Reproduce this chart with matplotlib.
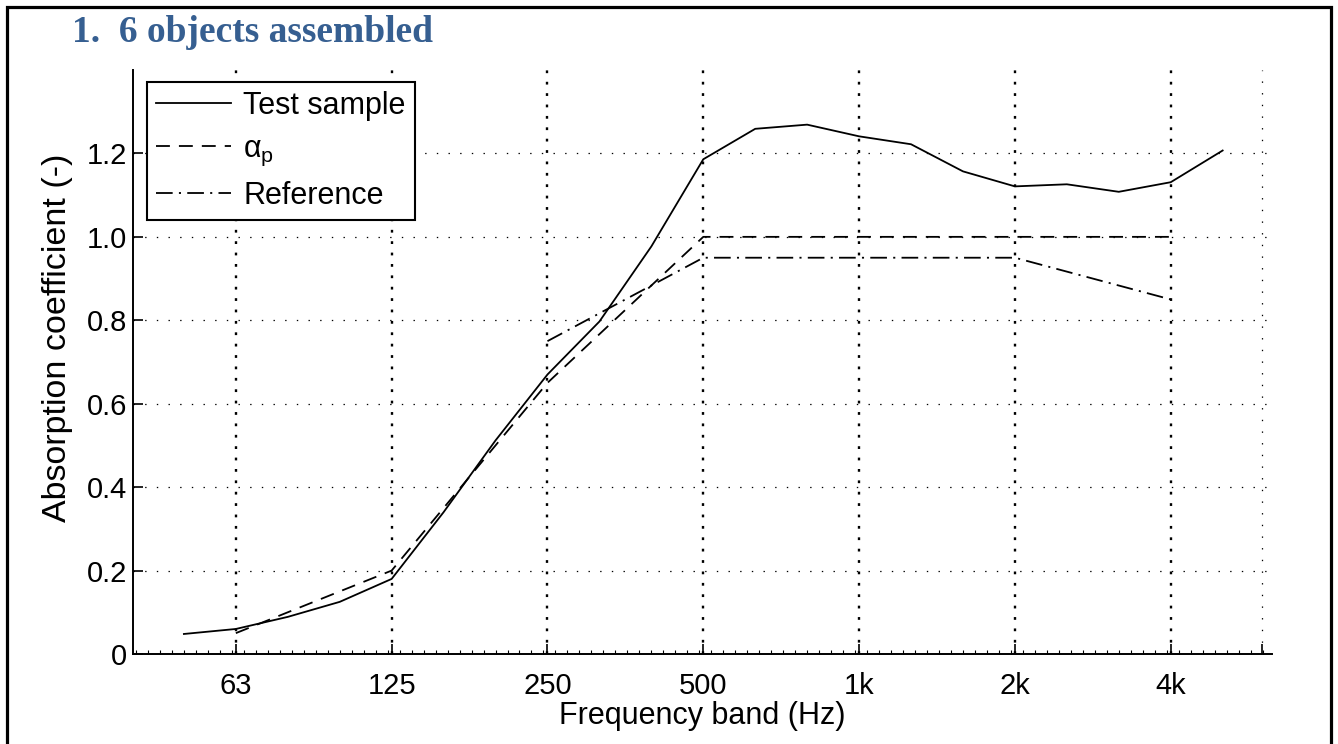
import matplotlib
matplotlib.use("Agg")
import matplotlib.pyplot as plt
from matplotlib.lines import Line2D
from matplotlib.ticker import FixedLocator, FixedFormatter, MultipleLocator

# ---------------- data ----------------
bands = ['50', '63', '80', '100', '125', '160', '200', '250', '315', '400', '500',
         '630', '800', '1k', '1.25k', '1.6k', '2k', '2.5k', '3.15k', '4k', '5k']
test_sample = [0.048, 0.060, 0.089, 0.125, 0.180, 0.340, 0.512, 0.670, 0.797, 0.977, 1.186,
               1.259, 1.269, 1.241, 1.222, 1.157, 1.121, 1.126, 1.108, 1.131, 1.207]
alpha_p_bands = ['63', '125', '250', '500', '1k', '2k', '4k']
alpha_p = [0.05, 0.20, 0.65, 1.00, 1.00, 1.00, 1.00]
ref_bands = ['250', '500', '1k', '2k', '4k']
reference = [0.75, 0.95, 0.95, 0.95, 0.85]
xtick_bands = ['63', '125', '250', '500', '1k', '2k', '4k']
xtick_labels = ['63', '125', '250', '500', '1k', '2k', '4k']
yticks = [0, 0.2, 0.4, 0.6, 0.8, 1.0, 1.2]
ytick_labels = ['0', '0.2', '0.4', '0.6', '0.8', '1.0', '1.2']

idx = {b: i for i, b in enumerate(bands)}

plt.rcParams['font.family'] = ['Liberation Sans', 'DejaVu Sans']
plt.rcParams['mathtext.fontset'] = 'custom'
plt.rcParams['mathtext.rm'] = 'Liberation Sans'
plt.rcParams['mathtext.it'] = 'Liberation Sans:italic'
plt.rcParams['mathtext.sf'] = 'Liberation Sans'
plt.rcParams['lines.scale_dashes'] = False

fig = plt.figure(figsize=(13.38, 7.44), dpi=100)
W, H = 1338, 744
ax = fig.add_axes([133 / W, 1 - 654 / H, (1272 - 133) / W, (654 - 70) / H])

dash = (0, (10, 6.5))
dashdot = (0, (12, 4.5, 1.5, 4.5))

ax.plot([idx[b] for b in bands], test_sample, color='black', lw=1.3, ls='-',
        label='Test sample', zorder=3)
ax.plot([idx[b] for b in alpha_p_bands], alpha_p, color='black', lw=1.3, ls=dash,
        label=r'$\mathrm{\alpha_p}$', zorder=3)
ax.plot([idx[b] for b in ref_bands], reference, color='black', lw=1.3, ls=dashdot,
        label='Reference', zorder=3)

xt = [idx[b] for b in xtick_bands] + [20.75]
ax.set_xlim(-0.98, 20.95)
ax.set_ylim(0, 1.4)
ax.xaxis.set_major_locator(FixedLocator(xt))
ax.xaxis.set_major_formatter(FixedFormatter(xtick_labels + ['']))
ax.xaxis.set_minor_locator(MultipleLocator(3 / 13))
ax.yaxis.set_major_locator(FixedLocator(yticks))
ax.yaxis.set_major_formatter(FixedFormatter(ytick_labels))

# grid
for i, x in enumerate(xt):
    if i < len(xtick_bands):
        ax.axvline(x, color='black', lw=1.7, ls=(0, (2.0, 6.2)), zorder=1)
    else:
        ax.axvline(x, color='black', lw=0.9, ls=(0, (1.0, 7.4)), zorder=1)
for y in yticks[1:]:
    ax.axhline(y, color='black', lw=0.9, ls=(0, (1.0, 7.4)), zorder=1)

for s in ['top', 'right']:
    ax.spines[s].set_visible(False)
for s in ['left', 'bottom']:
    ax.spines[s].set_linewidth(1.4)

ax.tick_params(axis='both', which='major', direction='in', length=7, width=1.2,
               labelsize=21)
ax.tick_params(axis='x', which='major', pad=13)
ax.tick_params(axis='y', which='major', pad=4)
ax.tick_params(axis='x', which='minor', direction='in', length=3, width=0.8)
ax.tick_params(axis='y', which='minor', left=False)

ax.set_xlabel('Frequency band (Hz)', fontsize=22, labelpad=1)
ax.set_ylabel('Absorption coefficient (-)', fontsize=24.5)
ax.yaxis.set_label_coords(-0.053, 0.541)

leg = ax.legend(loc='upper left', bbox_to_anchor=(0.0123, 0.9795), borderaxespad=0,
                fontsize=22, frameon=True, fancybox=False, shadow=False,
                handlelength=2.45, handletextpad=0.4, labelspacing=0.42,
                borderpad=0.3, framealpha=1)
leg.get_frame().set_edgecolor('black')
leg.get_frame().set_linewidth(1.5)

# title (document heading)
fig.text(72 / W, 1 - 42 / H, '1.  6 objects assembled', fontsize=27, fontweight='bold',
         family='Liberation Serif', color='#365F91', va='baseline', ha='left')

# page border
fig.add_artist(Line2D([7 / W, 7 / W, 1331 / W, 1331 / W],
                      [-0.02, 1 - 6.5 / H, 1 - 6.5 / H, -0.02],
                      transform=fig.transFigure, color='black', lw=2.3,
                      solid_joinstyle='miter'))

fig.savefig('out.png', dpi=100)
